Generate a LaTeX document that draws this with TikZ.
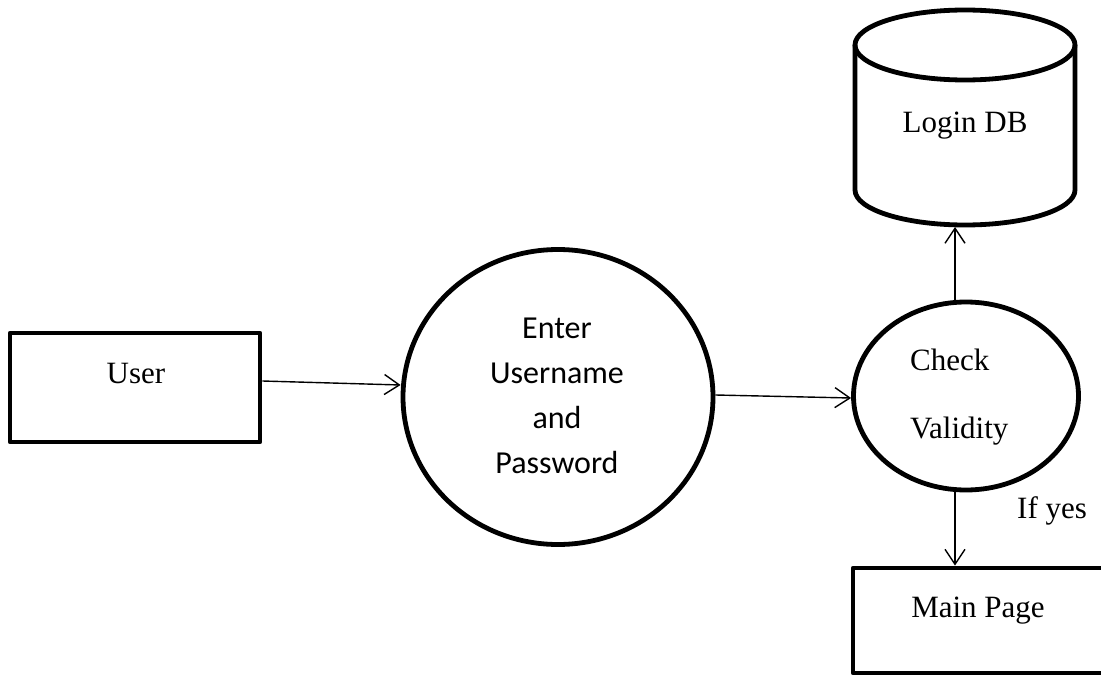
\documentclass[tikz,border=0pt]{standalone}
\usepackage{fontspec}
\setmainfont{Liberation Serif}
\newfontfamily\calibri{Carlito}
\usetikzlibrary{shapes.geometric,arrows.meta}
\begin{document}
\begin{tikzpicture}[x=1pt,y=-1pt,
  thickline/.style={line width=4.8pt,line join=round},
  flow/.style={line width=1.4pt,-{Straight Barb[length=15pt,width=20pt]}},
  lbl/.style={font=\fontsize{31}{36}\selectfont, inner sep=0pt},
  boxshape/.style={draw,thickline,inner sep=0pt},
]
\useasboundingbox (0,0) rectangle (1101,677);
% shapes
\node[boxshape,minimum width=250pt,minimum height=109pt] (user) at (135,387.5) {};
\node[boxshape,ellipse,minimum width=310pt,minimum height=295pt] (enter) at (558,397) {};
\node[boxshape,ellipse,minimum width=225pt,minimum height=188pt] (check) at (966,396) {};
\node[boxshape,minimum width=252pt,minimum height=105pt] (main) at (979,620.5) {};
% database cylinder
\draw[thickline] (855,45) -- (855,190) arc[start angle=180,end angle=0,x radius=110,y radius=35] -- (1075,45);
\draw[thickline] (965,45) ellipse[x radius=110,y radius=35];
\coordinate (dbbot) at (955,227);
% texts
\node[lbl,anchor=base] (usertext) at (136,383) {User};
\node[lbl,anchor=base] (dbtext) at (965,132) {Login DB};
\node[lbl,anchor=base] (maintext) at (978,617) {Main Page};
\node[lbl,anchor=base west] (checktext) at (910,370) {Check};
\node[lbl,anchor=base west] (validtext) at (910,438) {Validity};
\node[lbl,anchor=base west] (yestext) at (1017,518) {If yes};
\node[inner sep=0pt,align=center,font=\calibri\fontsize{32}{45}\selectfont] (entertext) at (557,395.5) {Enter\\Username\\and\\Password};
% connectors
\draw[flow] ([yshift=6.5pt]user.east) -- ([yshift=12pt]enter.west);
\draw[flow] ([yshift=2pt]enter.east) -- ([yshift=-2pt]check.west);
\draw[flow] ([xshift=-11pt]check.north) -- (dbbot);
\draw[flow] ([xshift=-11pt]check.south) -- ([xshift=-24pt]main.north);
\end{tikzpicture}
\end{document}
